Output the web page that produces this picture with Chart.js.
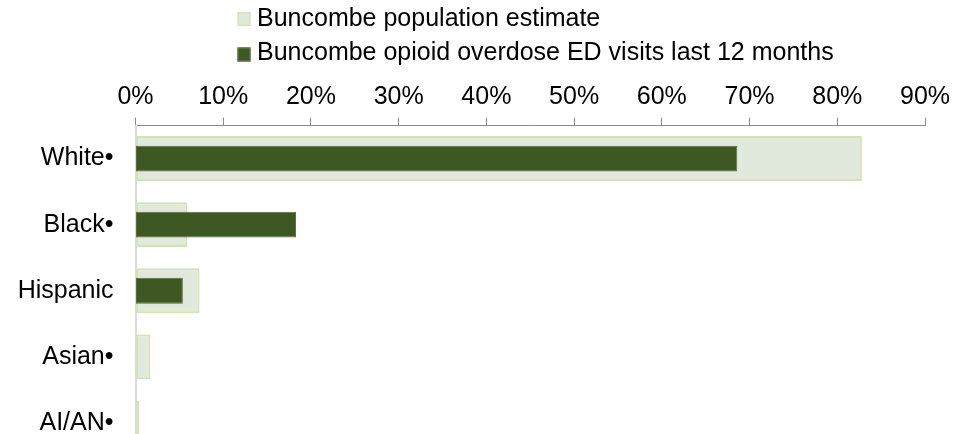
<!DOCTYPE html>
<html>
<head>
<meta charset="utf-8">
<script src="https://cdn.jsdelivr.net/npm/chart.js@4.4.1/dist/chart.umd.min.js"></script>
<style>
  html, body { margin: 0; padding: 0; background: #fff; overflow: hidden; }
  canvas { display: block; }
</style>
</head>
<body>
<canvas id="chart" width="972" height="458"></canvas>
<script>
// data (percent)
var categories = ["White\u2022", "Black\u2022", "Hispanic", "Asian\u2022", "AI/AN\u2022"];
var popEstimate = [82.8, 5.9, 7.3, 1.7, 0.4];
var edVisits = [68.6, 18.3, 5.4, 0, 0];
var tickValues = [0, 10, 20, 30, 40, 50, 60, 70, 80, 90];

var seriesNames = [
    "Buncombe population estimate",
    "Buncombe opioid overdose ED visits last 12 months"
];

Chart.defaults.font.family = "'Liberation Sans', Arial, sans-serif";
Chart.defaults.font.size = 25;
Chart.defaults.color = "#000";

// two-line legend, one item per row
var stackLegend = {
    id: "stackLegend",
    afterDraw: function(chart) {
        var ctx = chart.ctx;
        var boxRows = [19, 54.5];
        var textRows = [19, 53];
        ctx.save();
        ctx.font = "25px 'Liberation Sans', Arial, sans-serif";
        ctx.textBaseline = "middle";
        ctx.textAlign = "left";
        chart.data.datasets.forEach(function(ds, i) {
            var y = boxRows[i];
            ctx.fillStyle = ds.backgroundColor;
            ctx.fillRect(237.5, y - 7, 13, 14);
            ctx.strokeStyle = ds.borderColor;
            ctx.lineWidth = 1.5;
            ctx.strokeRect(238.25, y - 6.25, 11.5, 12.5);
            ctx.fillStyle = "#000";
            ctx.fillText(ds.label, 257, textRows[i]);
        });
        ctx.restore();
    }
};

var ctx = document.getElementById("chart");

var chart = new Chart(ctx, {
    type: "bar",
    data: {
        labels: categories,
        datasets: [
            {
                label: seriesNames[0],
                data: popEstimate,
                backgroundColor: "#e0e9dc",
                borderColor: "#d4e3b5",
                borderWidth: 2,
                borderSkipped: false,
                categoryPercentage: 1,
                barPercentage: 0.68,
                grouped: false,
                order: 2
            },
            {
                label: seriesNames[1],
                data: edVisits,
                backgroundColor: "#3e5824",
                borderColor: "#566f3e",
                borderWidth: 1,
                borderSkipped: false,
                categoryPercentage: 1,
                barPercentage: 0.39,
                grouped: false,
                order: 1
            }
        ]
    },
    options: {
        indexAxis: "y",
        responsive: false,
        animation: false,
        layout: {
            padding: { top: 0, right: 47, bottom: 2, left: 0 }
        },
        plugins: {
            legend: { display: false },
            tooltip: { enabled: false }
        },
        scales: {
            x: {
                position: "top",
                min: 0,
                max: 90,
                afterFit: function(scale) { scale.height = 125.5; },
                afterBuildTicks: function(scale) {
                    scale.ticks = tickValues.map(function(v) { return { value: v }; });
                },
                ticks: {
                    padding: 5,
                    callback: function(v) { return v + "%"; }
                },
                grid: {
                    drawOnChartArea: false,
                    tickLength: 8,
                    color: "#8c8c8c"
                },
                border: { color: "#8c8c8c", width: 1 }
            },
            y: {
                afterFit: function(scale) {
                    scale.width = 135.5;
                    // the label padding should not shrink the plot at the bottom
                    scale.paddingTop = 0;
                    scale.paddingBottom = 0;
                },
                ticks: { padding: 22 },
                grid: { display: false, drawTicks: false },
                border: { color: "#d9d9d9", width: 2 }
            }
        }
    },
    plugins: [stackLegend]
});
</script>
</body>
</html>
